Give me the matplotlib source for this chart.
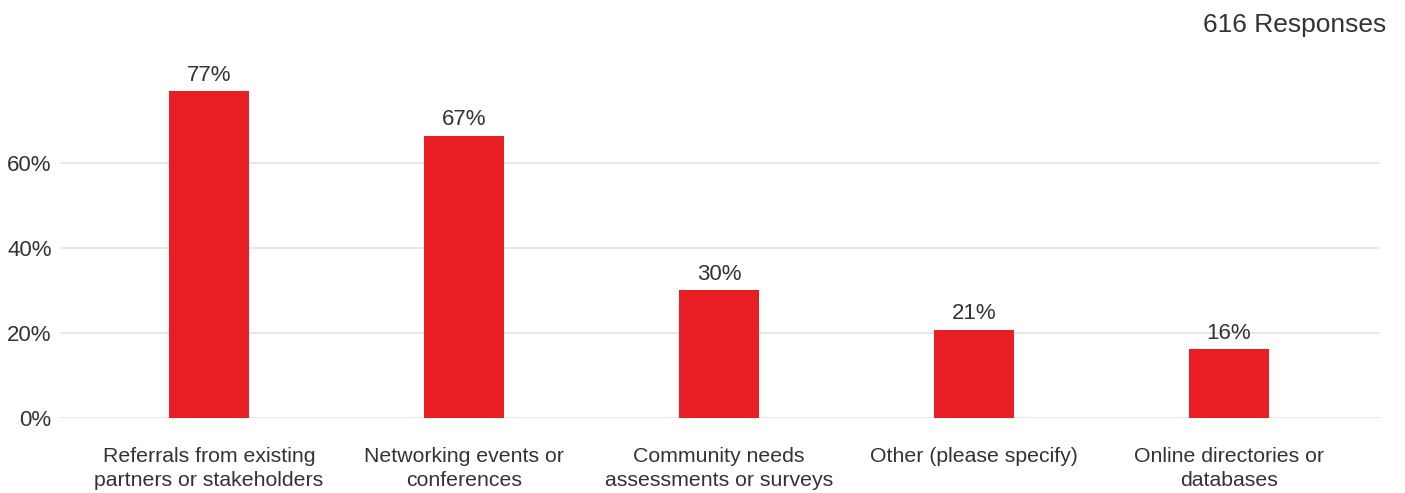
import matplotlib.pyplot as plt
import numpy as np

# データ
categories = [
    'Referrals from existing\npartners or stakeholders',
    'Networking events or\nconferences',
    'Community needs\nassessments or surveys',
    'Other (please specify)',
    'Online directories or\ndatabases',
]
values = [76.9, 66.4, 30.1, 20.7, 16.2]
labels = ['77%', '67%', '30%', '21%', '16%']
yticks = [0, 20, 40, 60]
title = '616 Responses'

plt.rcParams['font.family'] = ['Liberation Sans', 'DejaVu Sans']
text_color = '#333333'

fig = plt.figure(figsize=(14.05, 4.93), dpi=100)
ax = fig.add_axes([60 / 1405, 75 / 493, 1320 / 1405, 357 / 493])

x = np.arange(len(categories))
bars = ax.bar(x, values, width=0.314, color='#E91E25', zorder=3)

for b, lab in zip(bars, labels):
    ax.annotate(lab, (b.get_x() + b.get_width() / 2, b.get_height()),
                xytext=(0, 4), textcoords='offset points',
                ha='center', va='bottom', fontsize=16, color=text_color)

ax.set_xlim(-0.584, 4.592)
ax.set_ylim(0, 84)
ax.set_yticks(yticks)
ax.set_yticklabels([f'{t}%' for t in yticks])
ax.set_xticks(x)
ax.set_xticklabels(categories, fontsize=15.3, color=text_color, linespacing=1.3)
ax.tick_params(axis='x', length=0, pad=21)
ax.tick_params(axis='y', length=0, pad=6, labelsize=16, labelcolor=text_color)
ax.grid(axis='y', color='#e5e5e5', linewidth=1.3, zorder=0)
for s in ax.spines.values():
    s.set_visible(False)

fig.text(1386 / 1405, 1 - 25 / 493, title, ha='right', va='center',
         fontsize=19, color=text_color)

fig.savefig('out.png', dpi=100)
